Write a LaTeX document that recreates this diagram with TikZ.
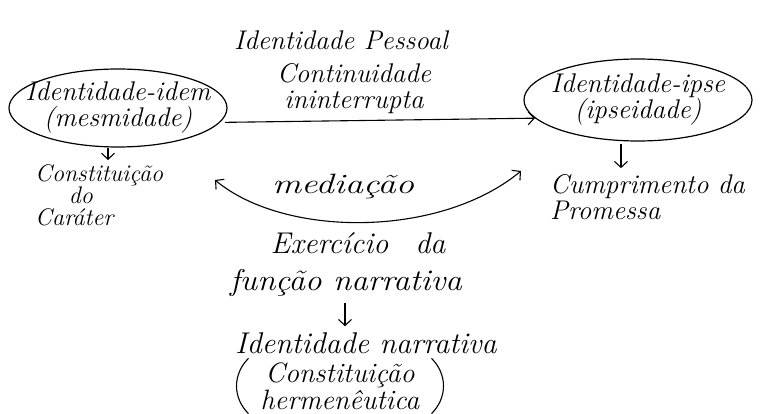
\documentclass[tikz,border=0pt]{standalone}
\usepackage{fontspec}
\usetikzlibrary{shapes.geometric,arrows.meta}
\begin{document}
\begin{tikzpicture}[x=1pt,y=-1pt,
  hand/.style={font=\fontsize{27}{26}\selectfont\itshape, inner sep=0pt, align=center},
  small/.style={font=\fontsize{24}{22}\selectfont\itshape, inner sep=0pt},
  big/.style={font=\fontsize{30}{28}\selectfont\itshape, inner sep=0pt, align=center},
  blob/.style={ellipse, draw, line width=1.2pt, inner sep=0pt},
  tip/.tip={Straight Barb[length=6pt,width=13pt,line width=1.1pt]},
  conn/.style={line width=1.1pt, -tip},
  bothconn/.style={line width=1.1pt, tip-tip},
  paren/.style={line width=1.1pt}]
\useasboundingbox (0,0) rectangle (761,414);

\node[hand] (title) at (341,40) {Identidade Pessoal};
\node[hand] (cont) at (354,89) {Continuidade\\ininterrupta};

\node[blob, minimum width=218pt, minimum height=78pt] (idem) at (118,108) {};
\node[hand] (idemtxt) at (idem.center) {Identidade-idem\\(mesmidade)};
\node[blob, minimum width=228pt, minimum height=82pt] (ipse) at (638,100) {};
\node[hand] (ipsetxt) at (ipse.center) {Identidade-ipse\\(ipseidade)};

\draw[conn] ([xshift=5pt]idem.-8) -- (ipse.190);

\node[small, align=left, anchor=north west] (carat) at (35,164) {Constituição\\\hspace*{1.4em}do\\Caráter};
\draw[conn] ([xshift=-10pt]idem.south) -- ([xshift=-10pt,yshift=4pt]idem.south |- carat.north);

\node[hand, align=left, anchor=west] (prom) at (550,197) {Cumprimento da\\Promessa};
\draw[conn] ([xshift=-17pt,yshift=-2pt]ipse.south) -- ([xshift=-17pt,yshift=6pt]ipse.south |- prom.north);

\coordinate (medL) at (215,180);
\coordinate (medR) at (521,171);
\draw[bothconn] (medL) .. controls (285,238) and (440,238) .. (medR);
\node[hand, font=\fontsize{28}{26}\selectfont\itshape] (med) at (343,186) {\scalebox{1.3}[1]{mediação}};

\node[big] (exer) at (358,243) {Exercício\hspace{0.9em}da};
\node[big] (func) at (346,283) {\scalebox{1.1}[1]{função narrativa}};
\node[big] (narr) at (366,343) {Identidade narrativa};
\draw[conn] ([xshift=-1pt,yshift=-6pt]func.south) -- ([xshift=-1pt,yshift=6pt]func.south |- narr.north);

\node[big, font=\fontsize{28}{27}\selectfont\itshape] (herm) at (340,386) {Constituição\\hermenêutica};
\draw[paren] ([xshift=-12pt,yshift=4pt]herm.north west) .. controls ([xshift=-28pt,yshift=-12pt]herm.north west) and ([xshift=-28pt,yshift=12pt]herm.south west) .. ([xshift=-12pt,yshift=-4pt]herm.south west);
\draw[paren] ([xshift=12pt,yshift=4pt]herm.north east) .. controls ([xshift=28pt,yshift=-12pt]herm.north east) and ([xshift=28pt,yshift=12pt]herm.south east) .. ([xshift=12pt,yshift=-4pt]herm.south east);
\end{tikzpicture}
\end{document}
